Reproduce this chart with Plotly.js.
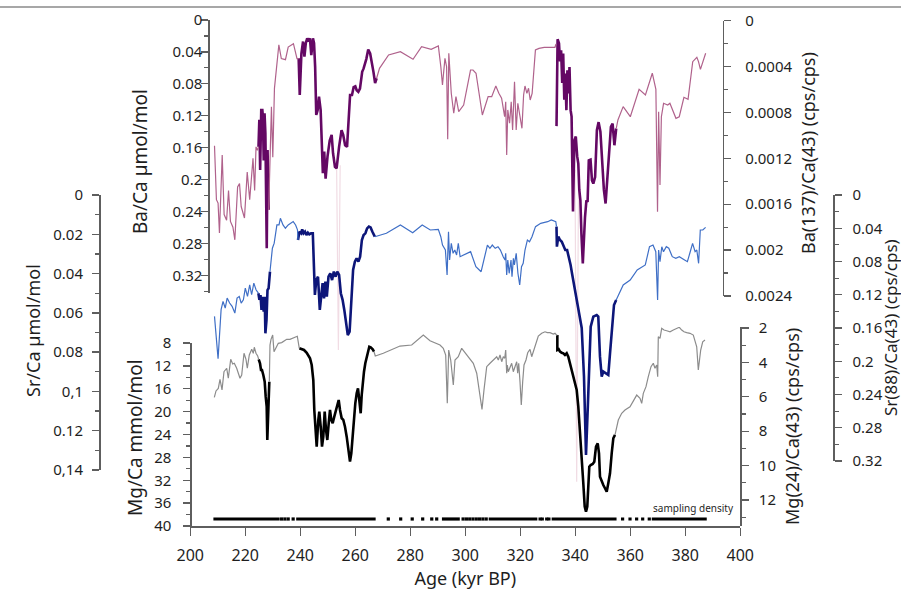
<!DOCTYPE html>
<html><head><meta charset="utf-8">
<script src="https://cdn.plot.ly/plotly-3.0.1.min.js"></script>
<style>html,body{margin:0;padding:0;background:#fff}#chart{width:901px;height:595px}</style>
</head><body><div id="chart"></div>
<script>
// ================= DATA =================
// Age axis ticks
const xTickVals = [200,220,240,260,280,300,320,340,360,380,400];
const xTickText = ["200","220","240","260","280","300","320","340","360","380","400"];

// Ba(137)/Ca(43) (cps/cps) - thin mauve line (null = hidden under calibrated segment)
const baCpsAge = [208.8,209.5,210.1,210.6,211.6,212.3,213.2,213.9,214.6,215.5,216.2,217.2,217.9,218.5,219.7,220.7,221.6,222.8,223.4,223.9,224.4,224.8,null,
  228.5,229.0,229.5,230.0,230.6,232.2,233.1,234.6,235.6,237.5,238.8,239.4,null,
  267.75,268.8,272.1,276.4,281.0,284.1,287.6,290.2,291.1,291.7,292.6,293.2,293.6,294.0,294.9,295.8,296.6,297.6,299.4,301.9,302.8,303.9,306.2,308.3,309.6,311.1,312.2,313.2,314.3,314.7,315.05,315.45,316.1,316.7,317.2,317.9,318.5,319.1,319.8,320.6,321.2,321.7,322.4,323.0,323.6,324.3,325.5,326.8,328.7,332.6,333.0,null,
  354.9,355.5,357.4,360.0,363.2,365.5,368.0,369.3,369.9,370.3,370.8,371.3,372.1,373.6,374.4,376.6,377.8,379.5,381.0,382.7,384.2,384.8,385.5,386.4,387.4];
const baCpsVal = [0.00109,0.00156,0.00159,0.00185,0.00117,0.00169,0.00174,0.00148,0.00175,0.00180,0.00191,0.00145,0.00142,0.00162,0.00172,0.00132,0.00156,0.00120,0.00148,0.00110,0.00113,0.00110,null,
  0.00165,0.00119,0.00075,0.00119,0.00059,0.00021,0.00033,0.00034,0.00023,0.00020,0.00033,0.00033,null,
  0.000502,0.000415,0.000299,0.000270,0.000336,0.000227,0.000249,0.000220,0.000401,0.000560,0.000328,0.000401,0.001034,0.000284,0.000633,0.000807,0.000662,0.000793,0.000735,0.000430,0.000430,0.000458,0.000822,0.000662,0.000662,0.000569,0.000633,0.000676,0.000837,0.000706,0.001170,0.000778,0.000894,0.000706,0.000953,0.000532,0.000953,0.000720,0.000822,0.000938,0.000648,0.000569,0.000633,0.000589,0.000691,0.000633,0.000255,0.000241,0.000232,0.000232,0.000203,null,
  0.000938,0.000865,0.000749,0.000837,0.000598,0.000648,0.000458,0.000598,0.001665,0.000793,0.001432,0.000837,0.000720,0.000735,0.000720,0.000851,0.000837,0.000668,0.000685,0.000357,0.000319,0.000357,0.000424,0.000357,0.000284];
// pale spikes of the Ba cps record
const baSpikeAge = [253.2,253.85,254.5,null,339.9,340.5,341.2];
const baSpikeVal = [0.00126,0.00287,0.00126,null,0.0013,0.00402,0.0013];

// Ba/Ca (umol/mol) - thick purple segments
const baAge = [224.8,225.1,225.4,225.8,226.2,226.4,226.7,227.0,227.3,227.6,227.8,228.1,228.5,null,
  239.4,239.8,240.4,241.0,241.5,242.0,242.5,243.0,243.5,244.0,244.6,245.0,245.4,245.8,246.3,246.8,247.4,247.9,248.2,248.7,249.2,249.9,250.7,251.4,251.9,252.6,253.2,254.1,255.0,255.6,256.3,257.0,257.5,258.1,258.8,259.4,260.0,260.5,261.1,261.7,262.5,263.0,264.0,264.7,265.4,266.0,266.6,267.2,267.75,null,
  333.17,333.56,334.07,334.44,334.84,335.24,335.6,336.0,336.36,336.76,337.13,337.53,337.89,338.29,338.65,339.16,339.67,340.18,340.69,341.09,341.45,341.85,342.22,342.73,343.53,344.04,344.47,344.91,345.53,346.07,346.55,347.2,347.85,348.47,349.13,349.75,350.4,351.02,351.67,352.29,352.95,353.56,354.22,354.87];
const baVal = [0.159,0.125,0.188,0.113,0.113,0.121,0.176,0.117,0.142,0.238,0.286,0.163,0.238,null,
  0.048,0.094,0.042,0.027,0.046,0.029,0.023,0.027,0.023,0.044,0.023,0.029,0.059,0.119,0.113,0.096,0.113,0.167,0.192,0.165,0.199,0.171,0.151,0.144,0.167,0.184,0.186,0.159,0.138,0.144,0.157,0.159,0.132,0.094,0.094,0.084,0.083,0.088,0.090,0.086,0.065,0.061,0.049,0.037,0.042,0.052,0.065,0.079,0.073,null,
  0.133,0.024,0.029,0.052,0.038,0.079,0.042,0.100,0.067,0.113,0.063,0.092,0.059,0.113,0.121,0.240,0.151,0.146,0.171,0.180,0.213,0.226,0.268,0.305,0.247,0.226,0.228,0.176,0.175,0.201,0.205,0.197,0.138,0.128,0.140,0.171,0.213,0.230,0.201,0.167,0.134,0.130,0.157,0.136];

// Sr(88)/Ca(43) (cps/cps) - thin blue line
const srCpsAge = [208.8,210.1,211.2,211.9,212.7,213.4,214.3,215.2,216.2,217.0,217.8,218.5,219.3,220.0,220.8,221.6,222.3,223.1,223.9,224.5,224.76,null,
  228.98,229.49,229.85,230.51,231.49,232.25,232.76,233.71,234.58,235.6,237.42,238.29,238.98,239.16,null,
  267.09,271.31,276.4,280.87,284.33,287.27,290.18,291.09,291.71,292.76,293.38,293.89,294.29,294.91,295.56,296.18,296.84,297.45,298.11,299.38,301.93,303.85,305.75,308.04,308.95,309.82,310.87,311.89,312.76,313.78,314.44,314.69,315.05,315.45,315.96,316.62,316.98,317.49,317.85,318.51,319.13,319.78,320.44,321.05,321.71,322.58,323.35,324.25,325.53,327.42,329.96,331.27,332.91,333.16,null,
  354.87,355.49,357.42,359.96,362.51,365.45,366.98,368.25,369.27,369.93,370.29,370.8,371.45,372.07,373.09,374.0,375.27,376.55,377.82,379.75,380.76,381.64,382.65,383.56,384.18,384.84,385.45,386.36,387.38];
const srCpsVal = [0.146,0.197,0.138,0.128,0.136,0.124,0.130,0.134,0.142,0.124,0.122,0.130,0.126,0.112,0.122,0.108,0.120,0.106,0.114,0.118,0.118,null,
  0.092,0.078,0.064,0.058,0.036,0.036,0.028,0.036,0.040,0.036,0.032,0.036,0.042,0.054,null,
  0.0502,0.0461,0.0361,0.0454,0.0361,0.0421,0.0413,0.0502,0.0602,0.0662,0.0962,0.0441,0.0782,0.0581,0.0701,0.0662,0.0722,0.0581,0.0742,0.0722,0.0682,0.0862,0.0923,0.0602,0.0641,0.0602,0.0641,0.0622,0.0662,0.0742,0.0782,0.0701,0.0962,0.0782,0.0942,0.0782,0.0983,0.0762,0.0842,0.0701,0.0942,0.1083,0.0862,0.0822,0.0662,0.0541,0.0562,0.0502,0.0381,0.0341,0.0321,0.0301,0.0321,0.0381,null,
  0.1263,0.1223,0.1083,0.1023,0.0902,0.0842,0.0622,0.0602,0.0682,0.1263,0.0662,0.0802,0.0622,0.0682,0.0622,0.0641,0.0742,0.0762,0.0742,0.0782,0.0802,0.0701,0.0581,0.0682,0.0662,0.0822,0.0421,0.0421,0.0389];

// Sr/Ca (umol/mol) - thick navy segments
const srAge = [224.76,225.13,225.53,225.89,226.29,226.69,227.05,227.31,227.71,228.07,228.47,228.98,null,
  239.16,239.67,240.33,240.69,241.2,241.71,242.22,242.76,243.27,243.89,244.55,244.8,245.31,245.82,246.44,247.09,247.6,248.11,248.62,249.13,249.64,250.25,250.91,251.56,252.18,252.84,253.45,254.11,254.73,255.38,256.0,256.65,257.27,257.93,258.55,259.2,259.85,260.47,261.13,261.75,262.4,263.02,263.67,264.29,264.95,265.56,266.22,267.09,null,
  333.16,333.31,333.82,334.44,335.09,335.71,336.36,337.02,337.64,338.29,338.91,339.56,340.18,340.84,341.45,342.33,343.16,343.89,344.51,345.09,345.6,346.55,347.78,348.36,348.98,349.6,350.18,351.16,352.0,352.62,353.24,354.07,354.87];
const srVal = [0.0500,0.0534,0.0509,0.0585,0.0518,0.0594,0.0518,0.0704,0.0636,0.0484,0.0475,0.0390,null,
  0.0229,0.0187,0.0195,0.0175,0.0195,0.0187,0.0204,0.0192,0.0200,0.0195,0.0195,0.0348,0.0509,0.0433,0.0416,0.0585,0.0518,0.0449,0.0526,0.0441,0.0518,0.0416,0.0399,0.0433,0.0390,0.0416,0.0390,0.0407,0.0500,0.0534,0.0585,0.0653,0.0713,0.0696,0.0518,0.0382,0.0339,0.0322,0.0339,0.0314,0.0229,0.0204,0.0195,0.0170,0.0161,0.0165,0.0187,0.0212,null,
  0.0161,0.0263,0.0212,0.0229,0.0238,0.0263,0.0280,0.0280,0.0314,0.0356,0.0407,0.0458,0.0509,0.0569,0.0626,0.0677,0.0925,0.1323,0.1094,0.0806,0.0670,0.0619,0.0611,0.0619,0.0823,0.0925,0.0899,0.0908,0.0916,0.0806,0.0687,0.0560,0.0534];

// Mg(24)/Ca(43) (cps/cps) - thin grey line
const mgCpsAge = [208.73,209.35,210.18,210.8,211.53,212.25,213.24,213.82,214.69,215.42,216.0,216.87,218.07,218.69,219.53,220.25,220.73,221.45,222.33,222.91,223.27,223.89,224.51,224.87,null,
  228.73,228.98,229.35,229.96,230.44,231.16,232.0,233.24,235.05,236.25,237.71,238.91,239.64,null,
  266.8,267.27,270.18,272.62,276.25,280.51,284.73,287.16,290.8,292.0,292.87,293.45,293.96,294.69,295.64,296.25,297.45,298.69,301.09,302.91,304.15,304.98,305.6,306.07,306.8,307.78,308.98,310.18,311.42,312.0,312.62,313.24,313.82,314.33,314.69,315.05,315.27,315.64,316.25,316.87,317.45,318.07,318.69,319.05,319.42,319.89,320.36,320.87,321.35,322.07,322.69,323.53,324.15,324.73,325.71,326.55,327.78,328.98,329.82,330.8,332.0,332.62,333.24,333.47,null,
  354.44,355.64,356.87,358.07,359.89,361.35,362.33,363.53,364.15,364.73,365.71,366.55,367.53,368.36,368.98,369.6,369.96,370.18,370.8,371.42,372.25,373.24,374.44,375.64,376.87,377.82,378.69,379.53,380.51,381.71,382.91,383.53,384.15,384.73,385.09,385.6,386.33,387.16];
const mgCpsVal = [6.03,5.66,5.51,4.98,5.60,4.54,4.34,4.92,3.82,4.09,4.05,4.34,4.92,4.73,3.47,3.82,4.34,3.57,3.24,3.47,3.12,3.47,3.63,3.82,null,
  5.12,2.99,2.66,2.41,3.38,3.18,2.89,2.85,2.66,2.66,2.54,2.48,3.18,null,
  3.38,3.63,3.47,3.32,3.05,2.99,2.41,2.74,2.99,3.18,3.57,6.38,3.28,3.86,5.31,3.86,3.67,3.18,3.67,4.05,4.63,5.51,6.19,6.73,5.60,4.25,4.05,3.86,3.67,3.86,3.57,3.96,3.67,3.76,3.28,4.63,4.15,4.54,4.34,4.05,4.54,4.25,3.96,4.63,4.05,5.12,6.48,5.12,4.15,3.86,3.44,3.24,3.67,3.38,2.89,2.47,2.31,2.22,2.27,2.27,2.35,2.31,2.41,2.41,null,
  8.22,7.35,6.96,6.77,6.58,6.19,5.90,6.09,6.38,5.80,5.41,4.83,4.25,4.05,4.34,4.15,4.83,2.51,2.60,2.02,2.12,2.16,2.22,2.12,2.02,1.96,2.12,2.22,2.27,2.31,2.41,2.80,3.09,4.44,3.86,3.28,2.80,2.70];

// Mg/Ca (mmol/mol) - thick black segments
const mgAge = [224.87,225.35,225.71,226.07,226.55,227.05,227.42,227.78,228.0,228.25,228.62,228.73,null,
  239.64,240.51,241.35,242.33,242.91,243.53,244.15,244.73,245.09,245.6,245.96,246.55,246.91,247.42,247.89,248.36,248.87,249.35,249.82,250.33,250.8,251.27,251.78,252.36,252.98,253.45,253.96,254.44,255.05,255.64,256.25,256.87,257.45,258.07,258.55,259.05,259.53,260.0,260.51,260.98,261.45,261.96,262.33,262.69,263.16,263.64,264.15,264.62,265.09,265.6,266.33,266.8,null,
  333.47,333.47,333.96,334.44,335.05,335.64,336.25,336.87,337.45,338.07,338.69,339.27,339.89,340.51,341.09,341.71,342.33,342.91,343.42,343.89,344.36,344.73,345.09,345.6,346.33,346.91,347.53,348.15,348.62,348.98,349.6,350.18,350.8,351.42,352.0,352.62,353.24,353.82,354.44];
const mgVal = [10.85,11.55,12.72,12.72,13.59,14.77,17.39,19.14,24.96,19.71,15.05,14.77,null,
  8.93,9.10,9.22,9.70,10.10,10.67,11.85,14.47,19.71,24.38,26.13,21.46,20.01,22.63,26.13,24.38,20.01,23.21,24.96,22.04,19.71,21.46,22.04,20.88,19.71,19.14,17.97,19.71,21.16,21.46,22.63,24.38,26.41,28.75,27.28,23.79,20.88,18.54,16.79,15.92,17.97,20.29,17.09,14.47,13.02,11.55,10.40,9.22,8.65,8.75,9.10,9.52,null,
  6.60,9.22,9.10,9.52,9.70,9.80,10.10,9.80,10.40,11.55,12.72,13.89,15.05,16.22,19.14,23.21,27.28,32.53,36.62,37.49,36.62,32.53,29.63,29.33,29.15,28.75,26.13,25.54,27.28,31.37,32.25,32.83,33.40,34.00,32.53,30.78,27.28,24.66,24.08];

// Sampling density: continuous runs and isolated samples (ages, kyr BP)
const densRunStart = [208.4,238.5,291.5,308.5,331.4,367.8];
const densRunEnd   = [232.5,267.4,298.0,326.2,355.0,387.8];
const densDots = [233.2,234.4,235.6,237.4,272.0,276.5,280.7,284.5,287.8,289.6,299.2,300.4,301.6,302.8,304.0,305.2,306.4,307.6,327.2,328.0,329.6,330.4,357.2,359.9,362.3,364.5,366.9];

// Axis ticks
const mgTickVals = [8,12,16,20,24,28,32,36,40];
const mgTickText = ["8","12","16","20","24","28","32","36","40"];
const mgCpsTickVals = [2,4,6,8,10,12];
const mgCpsTickText = ["2","4","6","8","10","12"];
const srTickVals = [0,0.02,0.04,0.06,0.08,0.1,0.12,0.14];
const srTickText = ["0","0.02","0.04","0.06","0.08","0,1","0.12","0,14"];
const srCpsTickVals = [0,0.04,0.08,0.12,0.16,0.2,0.24,0.28,0.32];
const srCpsTickText = ["0","0.04","0.08","0.12","0.16","0.2","0.24","0.28","0.32"];
const baTickVals = [0,0.04,0.08,0.12,0.16,0.2,0.24,0.28,0.32];
const baTickText = ["0","0.04","0.08","0.12","0.16","0.2","0.24","0.28","0.32"];
const baCpsTickVals = [0,0.0004,0.0008,0.0012,0.0016,0.002,0.0024];
const baCpsTickText = ["0","0.0004","0.0008","0.0012","0.0016","0.002","0.0024"];

// ================= LAYOUT GEOMETRY =================
const W = 901, H = 595;
const M = {l:99, r:68, t:20, b:69};
const PW = W - M.l - M.r, PH = H - M.t - M.b;
const fx = px => (px - M.l) / PW;
const fy = py => (H - M.b - py) / PH;
const clamp = v => Math.max(0, Math.min(1, v));
// axis calibrations: value v0 at pixel row p0, v1 at p1; axis line spans top..bot at column x
const CAL = {
  mg:    {v0:8, p0:343, v1:40, p1:526, top:343, bot:526, x:190.3, side:'left', st:9},
  mgCps: {v0:2, p0:328, v1:12, p1:500, top:327, bot:526, x:740.3, side:'right', st:7},
  sr:    {v0:0, p0:195, v1:0.14, p1:470, top:195, bot:470, x:99, side:'left', st:6},
  srCps: {v0:0, p0:195, v1:0.32, p1:461, top:195, bot:461, x:833.3, side:'right', st:8},
  ba:    {v0:0, p0:20, v1:0.32, p1:275.3, top:20, bot:293.3, x:208.3, side:'left', st:-4},
  baCps: {v0:0, p0:20.7, v1:0.0024, p1:296, top:20.7, bot:296, x:722.7, side:'right', st:11}
};
const valAt = (c, py) => c.v0 + (py - c.p0) * (c.v1 - c.v0) / (c.p1 - c.p0);

const AXC = '#5e5e5e', TXT = '#1e1e1e';
const FONT = 'Noto Sans, Open Sans, sans-serif';

function fullAxis(c, overlay) {
  const a = {domain:[0,1], range:[valAt(c, H - M.b), valAt(c, M.t)], visible:false,
             showgrid:false, zeroline:false, fixedrange:true, anchor:'x'};
  if (overlay) a.overlaying = overlay;
  return a;
}
function shownAxis(c, vals, text, minorStep) {
  return {
    domain:[clamp(fy(c.bot)), clamp(fy(c.top))],
    range:[valAt(c, c.bot), valAt(c, c.top)],
    anchor:'free', position: clamp(fx(c.x)), side: c.side,
    showline:true, linecolor:AXC, linewidth:1.5, mirror:false,
    showgrid:false, zeroline:false, fixedrange:true,
    ticks:'outside', ticklen:7, tickwidth:1.3, tickcolor:AXC,
    tickmode:'array', tickvals: vals, ticktext: text, ticklabelstandoff: c.st,
    tickfont:{family:FONT, size:15, color:TXT},
    minor:{ticks:'outside', ticklen:4, tickwidth:1.2, tickcolor:AXC, tickmode:'linear', tick0:0, dtick:minorStep}
  };
}

// Sampling-density strip, drawn on the Mg/Ca scale just above the age axis
const densLevel = valAt(CAL.mg, 519);
const densX = [], densY = [];
densRunStart.forEach((s, i) => { densX.push(s, densRunEnd[i], null); densY.push(densLevel, densLevel, null); });

const traces = [
  // hidden full-height scales (no clipping of excursions)
  {x: baSpikeAge, y: baSpikeVal, yaxis:'y', mode:'lines', line:{color:'#f1dce4', width:1.2}, hoverinfo:'skip'},
  {x: mgAge, y: mgVal, yaxis:'y2', mode:'lines', line:{color:'#000000', width:2.6}, hoverinfo:'skip'},
  // traces on the visible scales
  {x: densX, y: densY, yaxis:'y3', mode:'lines', line:{color:'#000000', width:3.2}, hoverinfo:'skip'},
  {x: densDots, y: densDots.map(() => densLevel), yaxis:'y3', mode:'markers',
   marker:{symbol:'square', size:3.2, color:'#000000'}, hoverinfo:'skip'},
  {x: mgCpsAge, y: mgCpsVal, yaxis:'y4', mode:'lines', line:{color:'#8c8c8c', width:1.2}, hoverinfo:'skip'},
  {x: srAge, y: srVal, yaxis:'y5', mode:'lines', line:{color:'#0d1679', width:2.6}, hoverinfo:'skip'},
  {x: srCpsAge, y: srCpsVal, yaxis:'y6', mode:'lines', line:{color:'#3f6fc6', width:1.2}, hoverinfo:'skip'},
  {x: baAge, y: baVal, yaxis:'y7', mode:'lines', line:{color:'#640864', width:2.6}, hoverinfo:'skip'},
  {x: baCpsAge, y: baCpsVal, yaxis:'y8', mode:'lines', line:{color:'#b0628c', width:1.2}, hoverinfo:'skip'}
];

function title(text, px, py, size) {
  return {text, xref:'paper', yref:'paper', x: fx(px), y: fy(py), xanchor:'center', yanchor:'middle',
          textangle:-90, showarrow:false, font:{family:FONT, size:size, color:TXT}};
}

const layout = {
  width: W, height: H, margin: M,
  paper_bgcolor:'#ffffff', plot_bgcolor:'rgba(0,0,0,0)',
  showlegend:false,
  font:{family:FONT, color:TXT},
  xaxis:{domain:[fx(190.3), fx(740.3)], range:[200,400], anchor:'free', position:0,
         showline:true, linecolor:AXC, linewidth:1.5, showgrid:false, zeroline:false, fixedrange:true,
         ticks:'outside', ticklen:8, tickwidth:1.3, tickcolor:AXC,
         tickmode:'array', tickvals:xTickVals, ticktext:xTickText, ticklabelstandoff:6,
         tickfont:{family:FONT, size:16, color:TXT},
         title:{text:'Age (kyr BP)', standoff:2, font:{family:FONT, size:18, color:TXT}}},
  yaxis:  fullAxis(CAL.baCps, null),
  yaxis2: fullAxis(CAL.mg, 'y'),
  yaxis3: shownAxis(CAL.mg, mgTickVals, mgTickText, 2),
  yaxis4: shownAxis(CAL.mgCps, mgCpsTickVals, mgCpsTickText, 1),
  yaxis5: shownAxis(CAL.sr, srTickVals, srTickText, 0.01),
  yaxis6: shownAxis(CAL.srCps, srCpsTickVals, srCpsTickText, 0.02),
  yaxis7: shownAxis(CAL.ba, baTickVals, baTickText, 0.02),
  yaxis8: shownAxis(CAL.baCps, baCpsTickVals, baCpsTickText, 0.0002),
  annotations: [
    title('Ba/Ca \u00b5mol/mol', 140, 162, 19),
    title('Ba(137)/Ca(43) (cps/cps)', 808, 153, 18),
    title('Sr/Ca \u00b5mol/mol', 33, 331, 18),
    title('Sr(88)/Ca(43) (cps/cps)', 890, 328, 17),
    title('Mg/Ca mmol/mol', 135, 438, 19),
    title('Mg(24)/Ca(43) (cps/cps)', 792, 427, 18),
    {text:'sampling density', xref:'paper', yref:'paper', x: fx(736), y: fy(508), xanchor:'right', yanchor:'middle',
     showarrow:false, font:{family:FONT, size:10, color:TXT}}
  ],
  shapes: [
    {type:'line', xref:'paper', yref:'paper', x0: fx(0), x1: fx(W), y0: fy(7), y1: fy(7),
     line:{color:'#8a8a8a', width:1.5}}
  ]
};

Plotly.newPlot('chart', traces, layout, {staticPlot:true, displayModeBar:false});
</script>
</body></html>
